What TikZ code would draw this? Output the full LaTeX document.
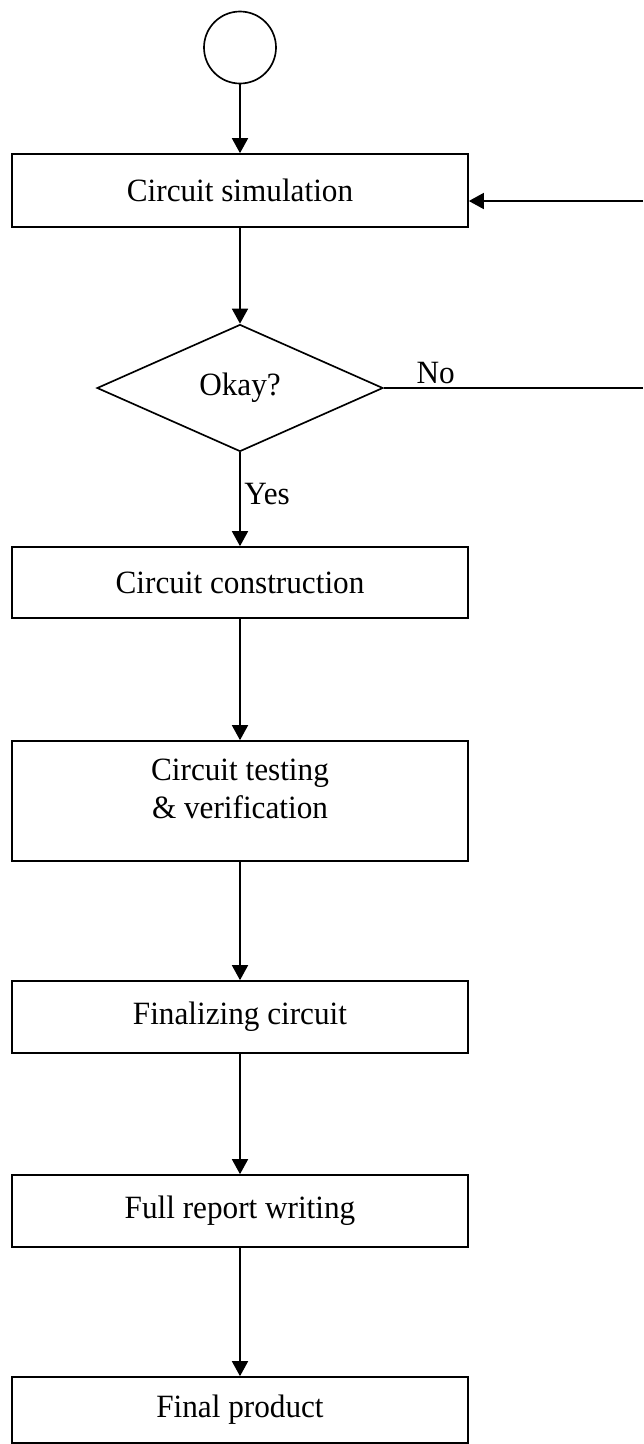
\documentclass[tikz,border=0pt]{standalone}
\usepackage{fontspec}
\setmainfont[FakeStretch=0.96]{Liberation Serif}
\usetikzlibrary{arrows.meta, shapes.geometric, calc}

\begin{document}
\begin{tikzpicture}[>={Triangle[length=3mm, width=3.2mm]}, line width=0.95pt,
    stage/.style={draw, rectangle, minimum width=9.12cm, minimum height=1.44cm,
                  inner sep=0pt, font=\fontsize{18.5}{21.6}\selectfont, align=center},
    check/.style={draw, diamond, aspect=2.25, minimum width=5.72cm,
                  minimum height=2.54cm, inner sep=0pt,
                  font=\fontsize{18.5}{21.6}\selectfont},
    tag/.style={font=\fontsize{18.5}{21.6}\selectfont, inner sep=2pt, align=center}]
  \useasboundingbox (0,0) rectangle (12.86,-28.88);

  % Start and stages
  \node[draw, circle, minimum size=1.44cm, inner sep=0pt] (start) at (4.8,-0.95) {};
  \node[stage, minimum height=1.46cm] (sim) at (4.8,-3.81) {Circuit simulation};
  \node[check] (ok) at (4.8,-7.76) {Okay?};
  \node[stage, minimum height=1.42cm] (build) at (4.8,-11.65) {Circuit construction};
  \node[stage, minimum height=2.4cm] (test) at (4.8,-16.02) {};
  \node[tag] (testtext) at (4.8,-15.78) {Circuit testing\\\& verification};
  \node[stage] (final) at (4.8,-20.34) {Finalizing circuit};
  \node[stage] (report) at (4.8,-24.22) {Full report writing};
  \node[stage, minimum height=1.32cm] (product) at (4.8,-28.2) {Final product};

  % Loop ends at the right margin
  \coordinate (back) at (12.86,-4.02);
  \coordinate (noend) at (12.86,-7.76);

  \draw[->] (start) -- (sim);
  \draw[->] (sim) -- (ok);
  \draw[->] (ok) -- node[tag, pos=0.44, right] (yes) {Yes} (build);
  \draw[->] (build) -- (test);
  \draw[->] (test) -- (final);
  \draw[->] (final) -- (report);
  \draw[->] (report) -- (product);

  \draw (ok.east) -- node[tag, pos=0.2, above] (no) {No} (noend);
  \draw[->] (back) -- (back -| sim.east);
\end{tikzpicture}
\end{document}
